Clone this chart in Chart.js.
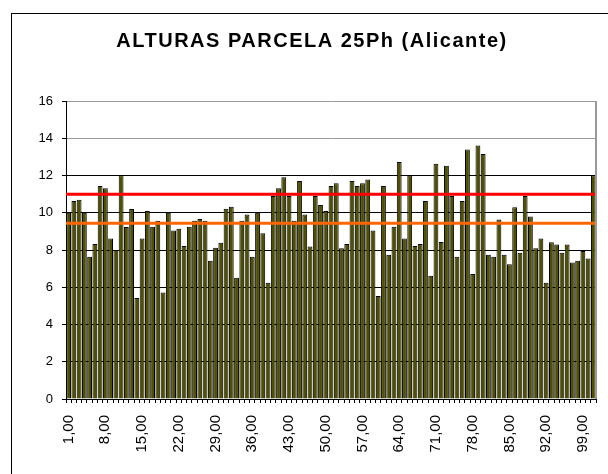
<!DOCTYPE html>
<html lang="es">
<head>
<meta charset="UTF-8">
<title>Alturas parcela 25Ph</title>
<style>
  html, body { margin: 0; padding: 0; background: #fff; }
  #wrap { width: 608px; height: 474px; position: relative; }
</style>
</head>
<body>
<div id="wrap"><canvas id="alturas"></canvas></div>
<script src="https://cdn.jsdelivr.net/npm/chart.js"></script>
<script>
// categorias (numero de planta)
const categorias = [
  '1,00','2,00','3,00','4,00','5,00','6,00','7,00','8,00','9,00','10,00',
  '11,00','12,00','13,00','14,00','15,00','16,00','17,00','18,00','19,00','20,00',
  '21,00','22,00','23,00','24,00','25,00','26,00','27,00','28,00','29,00','30,00',
  '31,00','32,00','33,00','34,00','35,00','36,00','37,00','38,00','39,00','40,00',
  '41,00','42,00','43,00','44,00','45,00','46,00','47,00','48,00','49,00','50,00',
  '51,00','52,00','53,00','54,00','55,00','56,00','57,00','58,00','59,00','60,00',
  '61,00','62,00','63,00','64,00','65,00','66,00','67,00','68,00','69,00','70,00',
  '71,00','72,00','73,00','74,00','75,00','76,00','77,00','78,00','79,00','80,00',
  '81,00','82,00','83,00','84,00','85,00','86,00','87,00','88,00','89,00','90,00',
  '91,00','92,00','93,00','94,00','95,00','96,00','97,00','98,00','99,00','100,00',
  '101,00'
];

// alturas
const alturas = [
  10.0, 10.63, 10.7, 10.0, 7.64, 8.32, 11.43, 11.32, 8.62, 8.0,
  12.02, 9.23, 10.2, 5.42, 8.62, 10.1, 9.25, 9.57, 5.72, 10.0,
  9.05, 9.14, 8.21, 9.25, 9.57, 9.66, 9.57, 7.42, 8.12, 8.39,
  10.21, 10.32, 6.51, 9.57, 9.9, 7.64, 10.0, 8.9, 6.24, 10.9,
  11.32, 11.91, 10.9, 9.57, 11.7, 9.9, 8.19, 10.9, 10.41, 10.1,
  11.43, 11.59, 8.1, 8.32, 11.7, 11.43, 11.59, 11.79, 9.05, 5.53,
  11.43, 7.75, 9.25, 12.72, 8.62, 12.0, 8.21, 8.32, 10.63, 6.62,
  12.63, 8.43, 12.52, 10.9, 7.64, 10.63, 13.4, 6.71, 13.61, 13.15,
  7.75, 7.64, 9.64, 7.75, 7.23, 10.3, 7.85, 10.9, 9.8, 8.1,
  8.62, 6.24, 8.41, 8.3, 7.85, 8.3, 7.33, 7.42, 7.94, 7.55,
  12.0
];

// lineas horizontales de referencia
const lineaRoja = 11.0;
const lineaNaranja = 9.43;

const ejeY = { min: 0, max: 16, paso: 2 };

const marco = {
  id: 'marco',
  beforeDraw(chart) {
    const ctx = chart.ctx;
    ctx.save();
    ctx.fillStyle = '#fff';
    ctx.fillRect(0, 0, chart.width, chart.height);
    ctx.strokeStyle = '#000';
    ctx.lineWidth = 1;
    ctx.strokeRect(11.5, 13.5, 800, 800);
    ctx.restore();
  },
  afterDraw(chart) {
    const a = chart.chartArea;
    const ctx = chart.ctx;
    ctx.save();
    ctx.strokeStyle = '#999';
    ctx.lineWidth = 2;
    ctx.beginPath();
    ctx.moveTo(a.right, a.top);
    ctx.lineTo(a.right, a.bottom);
    ctx.stroke();
    ctx.restore();
  }
};

const lineas = {
  id: 'lineas',
  afterDatasetsDraw(chart) {
    const a = chart.chartArea;
    const y = chart.scales.y;
    const ctx = chart.ctx;
    ctx.save();
    ctx.lineWidth = 3;
    [[lineaNaranja, '#ff6600'], [lineaRoja, '#ff0000']].forEach(([v, c]) => {
      const py = y.getPixelForValue(v);
      ctx.strokeStyle = c;
      ctx.beginPath();
      ctx.moveTo(a.left, py);
      ctx.lineTo(a.right, py);
      ctx.stroke();
    });
    ctx.restore();
  }
};

const fuente = 'Liberation Sans, Arial, sans-serif';

const grafico = new Chart(document.getElementById('alturas'), {
  type: 'bar',
  data: {
    labels: categorias,
    datasets: [{
      data: alturas,
      backgroundColor: '#4f4f00',
      borderColor: '#000',
      borderWidth: 1,
      barPercentage: 0.92,
      categoryPercentage: 1
    }]
  },
  options: {
    responsive: true,
    maintainAspectRatio: false,
    animation: false,
    layout: { padding: { left: 28, right: 12, top: 0, bottom: 0 } },
    plugins: {
      legend: { display: false },
      tooltip: { enabled: false },
      title: {
        display: true,
        text: 'ALTURAS PARCELA 25Ph (Alicante)',
        color: '#000',
        font: { family: fuente, size: 20, weight: 'bold' },
        padding: { top: 29, bottom: 48 }
      }
    },
    scales: {
      x: {
        afterFit(s) { s.height = 75; s.paddingLeft = 0; s.paddingRight = 0; },
        grid: { drawOnChartArea: false, drawTicks: true, tickLength: 4, color: '#000', tickColor: '#000' },
        border: { color: '#000', width: 1 },
        ticks: {
          autoSkip: false,
          minRotation: 90,
          maxRotation: 90,
          padding: 12,
          color: '#000',
          font: { family: fuente, size: 15 },
          callback: (v, i) => (i % 7 === 0 ? categorias[i] : '')
        }
      },
      y: {
        min: ejeY.min,
        max: ejeY.max,
        afterFit(s) { s.width = 38; },
        grid: {
          color: ctx => (ctx.tick && ctx.tick.value >= 14 ? '#999' : '#000'),
          tickColor: '#000',
          tickLength: 4
        },
        border: { color: '#000', width: 1 },
        ticks: {
          stepSize: ejeY.paso,
          padding: 9,
          color: '#000',
          font: { family: fuente, size: 13 }
        }
      }
    }
  },
  plugins: [marco, lineas]
});

// el titulo del original va algo espaciado
const dibujarTitulo = grafico.titleBlock.draw.bind(grafico.titleBlock);
grafico.titleBlock.draw = function () {
  grafico.ctx.letterSpacing = '1.5px';
  dibujarTitulo();
  grafico.ctx.letterSpacing = '0px';
};
grafico.draw();
</script>
</body>
</html>
